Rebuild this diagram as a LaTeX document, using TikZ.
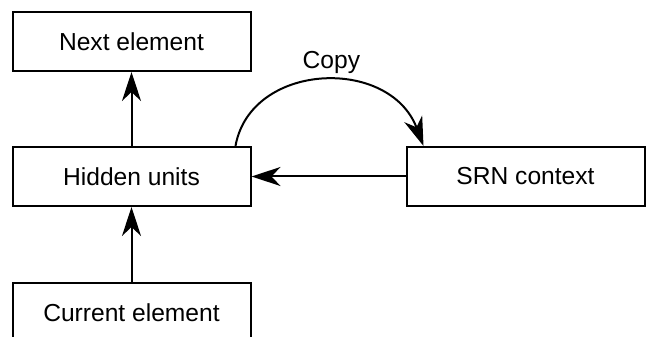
\documentclass[tikz,border=0pt]{standalone}
\usepackage{fontspec}
\setmainfont{Liberation Sans}
\usepackage{tikz}
\usetikzlibrary{positioning, arrows.meta}

\begin{document}
\begin{tikzpicture}[
    x=1pt, y=1pt,
    node distance=74pt and 154pt,
    unit/.style={rectangle, draw=black, line width=2pt, minimum width=238pt, minimum height=59pt, align=center, font=\fontsize{24.6}{29}\selectfont},
    flow_edge/.style={-{Stealth[length=29pt, width=19pt, inset=9pt]}, line width=2pt, draw=black}
]
\clip (0,0) rectangle (648,337);
\useasboundingbox (0,0) rectangle (648,337);

\node[unit] (hidden) at (131.5,160.5) {Hidden units};
\node[unit] (next) [above=of hidden] {Next element};
\node[unit] (current) [below=75pt of hidden] {Current element};
\node[unit] (srn) [right=of hidden] {SRN context};

\draw[flow_edge] (current) -- (hidden);
\draw[flow_edge] (hidden) -- (next);
\draw[flow_edge] (srn) -- (hidden);
\draw[flow_edge] ([xshift=-16pt]hidden.north east) .. controls +(15,84) and +(-34,90) ..
    node[above=3pt, xshift=9pt, font=\fontsize{24.6}{29}\selectfont] (copy) {Copy} ([xshift=18pt]srn.north west);
\end{tikzpicture}
\end{document}
